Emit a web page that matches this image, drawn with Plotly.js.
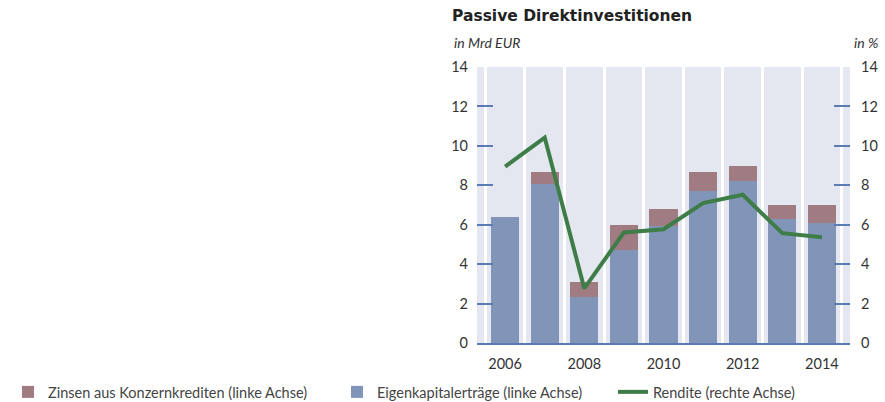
<!DOCTYPE html>
<html><head><meta charset="utf-8">
<script src="https://cdn.plot.ly/plotly-3.0.1.min.js"></script>
<style>html,body{margin:0;padding:0;background:#fff}#chart{width:885px;height:402px}</style>
</head><body><div id="chart"></div>
<script>
const years = [2006, 2007, 2008, 2009, 2010, 2011, 2012, 2013, 2014];
const eigenkapital = [6.4, 8.05, 2.35, 4.72, 5.95, 7.73, 8.23, 6.29, 6.07];
const zinsen = [0.0, 0.61, 0.73, 1.27, 0.85, 0.93, 0.75, 0.71, 0.93];
const rendite = [8.95, 10.42, 2.77, 5.61, 5.77, 7.1, 7.52, 5.57, 5.36];
const yTicks = [0, 2, 4, 6, 8, 10, 12, 14];
const xTicks = [2006, 2008, 2010, 2012, 2014];

const FONT = 'Lato, "Open Sans", sans-serif';
const tickBlue = '#5a7bb3';
const TF = 14.5;

const traces = [
  {type: 'bar', x: years, y: eigenkapital, name: 'Eigenkapitalerträge (linke Achse)',
   marker: {color: '#8095b8'}, legend: 'legend2', hoverinfo: 'none'},
  {type: 'bar', x: years, y: zinsen, name: 'Zinsen aus Konzernkrediten (linke Achse)',
   marker: {color: '#a07b82'}, legend: 'legend', hoverinfo: 'none'},
  {type: 'scatter', mode: 'lines', x: years, y: rendite, yaxis: 'y2', name: 'Rendite (rechte Achse)',
   line: {color: '#3e7c48', width: 4}, legend: 'legend3', hoverinfo: 'none'}
];

function leg(px) {
  return {
    orientation: 'h', xref: 'container', yref: 'container', x: px / 885, y: 0.025,
    xanchor: 'left', yanchor: 'middle',
    font: {family: FONT, size: TF, color: '#444'}, bgcolor: 'rgba(0,0,0,0)'
  };
}

const layout = {
  width: 885, height: 402,
  margin: {l: 477, r: 35, t: 67, b: 59},
  paper_bgcolor: '#ffffff',
  plot_bgcolor: '#e4e7f0',
  barmode: 'stack',
  bargap: 0.29,
  showlegend: true,
  font: {family: FONT, size: TF, color: '#333'},
  xaxis: {
    range: [2005.29, 2014.71], tickvals: xTicks, ticktext: xTicks.map(String),
    showgrid: false, zeroline: false, ticks: '',
    showline: true, linecolor: tickBlue, linewidth: 2,
    tickfont: {family: FONT, size: TF, color: '#333'},
    ticklabelstandoff: 7,
    minor: {tick0: 2005.5, dtick: 1, showgrid: true, gridcolor: '#ffffff', gridwidth: 3, ticks: ''}
  },
  yaxis: {
    range: [0, 14], tickvals: yTicks, showgrid: false, zeroline: false,
    ticks: 'inside', ticklen: 16, tickwidth: 2, tickcolor: tickBlue,
    tickfont: {family: FONT, size: TF, color: '#333'}, ticklabelstandoff: 8
  },
  yaxis2: {
    range: [0, 14], tickvals: yTicks, overlaying: 'y', side: 'right',
    showgrid: false, zeroline: false,
    ticks: 'inside', ticklen: 16, tickwidth: 2, tickcolor: tickBlue,
    tickfont: {family: FONT, size: TF, color: '#333'}, ticklabelstandoff: 10
  },
  legend: leg(8),
  legend2: leg(337),
  legend3: leg(613),
  annotations: [
    {xref: 'paper', yref: 'paper', x: -0.073, y: 1.0, yshift: 51, xanchor: 'left', yanchor: 'middle',
     text: '<b>Passive Direktinvestitionen</b>', showarrow: false,
     font: {family: '"DejaVu Sans", sans-serif', size: 15.5, color: '#222'}},
    {xref: 'paper', yref: 'paper', x: -0.068, y: 1.0, yshift: 25, xanchor: 'left', yanchor: 'middle',
     text: '<i>in Mrd EUR</i>', showarrow: false, font: {family: FONT, size: 14, color: '#333'}},
    {xref: 'paper', yref: 'paper', x: 1.08, y: 1.0, yshift: 25, xanchor: 'right', yanchor: 'middle',
     text: '<i>in %</i>', showarrow: false, font: {family: FONT, size: 14, color: '#333'}}
  ]
};

Plotly.newPlot('chart', traces, layout, {displayModeBar: false, staticPlot: true});
</script></body></html>
